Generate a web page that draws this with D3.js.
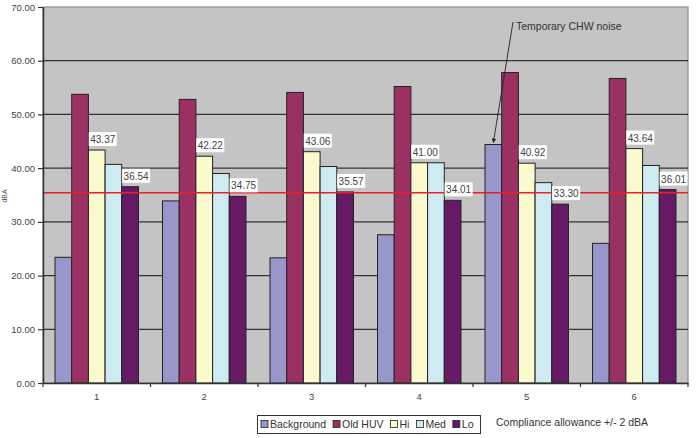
<!DOCTYPE html>
<html>
<head>
<meta charset="utf-8">
<script src="https://cdn.jsdelivr.net/npm/d3@7"></script>
<style>
  body { margin: 0; background: #fff; }
  text { font-family: "Liberation Sans", Arial, sans-serif; }
</style>
</head>
<body>
<svg width="697" height="438"></svg>
<script>
// chart values
var groups = ["1", "2", "3", "4", "5", "6"];
var seriesNames = ["Background", "Old HUV", "Hi", "Med", "Lo"];
var background = [23.4, 33.9, 23.3, 27.6, 44.4, 26.0];
var oldHuv = [53.75, 52.8, 54.1, 55.2, 57.8, 56.7];
var hi = [43.37, 42.22, 43.06, 41.00, 40.92, 43.64];
var med = [40.7, 39.0, 40.3, 41.0, 37.3, 40.5];
var lo = [36.54, 34.75, 35.57, 34.01, 33.30, 36.01];
var yTicks = [0, 10, 20, 30, 40, 50, 60, 70];
var limitLine = 35.4;
var labelledSeries = ["Hi", "Lo"];

var colors = ["#9797cb", "#9b3162", "#fdf9cf", "#cfebf2", "#661a66"];
var allValues = [background, oldHuv, hi, med, lo];

// note: "top" is reserved on window, so plot edges get their own names
var svg = d3.select("svg"),
    plotL = 43, plotR = 688, plotT = 7, plotB = 383;

var x = d3.scaleBand().domain(groups).range([plotL, plotR]).paddingInner(0).paddingOuter(0);
var xInner = d3.scaleBand().domain(seriesNames).range([0, x.bandwidth()]).paddingInner(0).paddingOuter(0.72);
var y = d3.scaleLinear().domain([0, 70]).range([plotB, plotT]);

// plot background
svg.append("rect")
    .attr("x", plotL).attr("y", plotT)
    .attr("width", plotR - plotL).attr("height", plotB - plotT)
    .attr("fill", "#c4c4c4")
    .attr("stroke", "#8c8c8c").attr("stroke-width", 1.2);

// gridlines
svg.append("g")
    .selectAll("line")
    .data(yTicks.filter(function(d) { return d > 0 && d < 70; }))
    .enter().append("line")
    .attr("x1", plotL).attr("x2", plotR)
    .attr("y1", function(d) { return y(d); })
    .attr("y2", function(d) { return y(d); })
    .attr("stroke", "#333").attr("stroke-width", 1.2);

// bars
var data = [];
groups.forEach(function(g, i) {
    seriesNames.forEach(function(s, j) {
        data.push({group: g, series: s, value: allValues[j][i], color: colors[j]});
    });
});

svg.append("g").selectAll("rect")
    .data(data)
    .enter().append("rect")
    .attr("x", function(d) { return x(d.group) + xInner(d.series); })
    .attr("y", function(d) { return y(d.value); })
    .attr("width", xInner.bandwidth())
    .attr("height", function(d) { return plotB - y(d.value); })
    .attr("fill", function(d) { return d.color; })
    .attr("stroke", "#222").attr("stroke-width", 1);

// red limit line
svg.append("line")
    .attr("x1", plotL).attr("x2", plotR)
    .attr("y1", y(limitLine)).attr("y2", y(limitLine))
    .attr("stroke", "#e8202a").attr("stroke-width", 1.5);

// y axis
var yAxis = svg.append("g")
    .attr("transform", "translate(" + plotL + ",0)")
    .call(d3.axisLeft(y).tickValues(yTicks).tickFormat(d3.format(".2f")).tickSize(5).tickSizeOuter(0));
yAxis.select(".domain").attr("stroke", "#333").attr("stroke-width", 1.5);
yAxis.selectAll(".tick line").attr("stroke", "#333").attr("stroke-width", 1.2);
yAxis.selectAll("text").attr("fill", "#444").attr("font-size", "9.5px").attr("x", -8);

// x axis
var xAxis = svg.append("g")
    .attr("transform", "translate(0," + plotB + ")")
    .call(d3.axisBottom(x).tickSize(0).tickPadding(10));
xAxis.select(".domain").attr("stroke", "#333").attr("stroke-width", 1.5);
xAxis.selectAll("text").attr("fill", "#444").attr("font-size", "9.5px");
xAxis.selectAll(".sep")
    .data(groups.map(function(g) { return x(g); }).concat([plotR]))
    .enter().append("line")
    .attr("class", "sep")
    .attr("x1", function(d) { return d; }).attr("x2", function(d) { return d; })
    .attr("y1", 0).attr("y2", 4)
    .attr("stroke", "#333").attr("stroke-width", 1.2);

// y axis title, squeezed against the left edge
svg.append("text")
    .attr("transform", "translate(7,196) rotate(-90)")
    .attr("text-anchor", "middle")
    .attr("font-size", "7px")
    .attr("fill", "#555")
    .text("dBA");

// data labels for Hi and Lo
var labels = svg.append("g").selectAll("g")
    .data(data.filter(function(d) { return labelledSeries.indexOf(d.series) >= 0; }))
    .enter().append("g")
    .attr("transform", function(d) {
        return "translate(" + (x(d.group) + xInner(d.series) + xInner.bandwidth() / 2 + 6) + "," + (y(d.value) - 7) + ")";
    });
labels.append("rect")
    .attr("x", -14).attr("y", -11)
    .attr("width", 28).attr("height", 14)
    .attr("fill", "#fff");
labels.append("text")
    .attr("text-anchor", "middle")
    .attr("font-size", "10px")
    .attr("fill", "#444")
    .text(function(d) { return d3.format(".2f")(d.value); });

// annotation
var target = data.filter(function(d) { return d.group === "5" && d.series === "Background"; })[0];
var tx = x(target.group) + xInner(target.series) + xInner.bandwidth() / 2;
var ty = y(target.value) - 2;
svg.append("defs").append("marker")
    .attr("id", "arrow").attr("viewBox", "0 0 10 10")
    .attr("refX", 9).attr("refY", 5)
    .attr("markerWidth", 5).attr("markerHeight", 5)
    .attr("orient", "auto")
    .append("path").attr("d", "M0,0L10,5L0,10Z").attr("fill", "#222");
svg.append("line")
    .attr("x1", 513).attr("y1", 22)
    .attr("x2", tx).attr("y2", ty)
    .attr("stroke", "#222").attr("stroke-width", 0.9)
    .attr("marker-end", "url(#arrow)");
svg.append("text")
    .attr("x", 516).attr("y", 29.5)
    .attr("font-size", "10.5px")
    .attr("fill", "#333")
    .text("Temporary CHW noise");

// legend
var legend = svg.append("g");
var lx = 261;
seriesNames.forEach(function(s, j) {
    legend.append("rect")
        .attr("x", lx).attr("y", 420.5)
        .attr("width", 7).attr("height", 7)
        .attr("fill", colors[j]).attr("stroke", "#222").attr("stroke-width", 0.8);
    var t = legend.append("text")
        .attr("x", lx + 9).attr("y", 428)
        .attr("font-size", "10.5px").attr("fill", "#333")
        .text(s);
    lx += 9 + t.node().getComputedTextLength() + 7;
});
legend.insert("rect", ":first-child")
    .attr("x", 257.5).attr("y", 415.5)
    .attr("width", lx - 257.5).attr("height", 18)
    .attr("fill", "#fff").attr("stroke", "#333").attr("stroke-width", 1);

svg.append("text")
    .attr("x", 496).attr("y", 426)
    .attr("font-size", "10.5px").attr("fill", "#333")
    .text("Compliance allowance +/- 2 dBA");
</script>
</body>
</html>
